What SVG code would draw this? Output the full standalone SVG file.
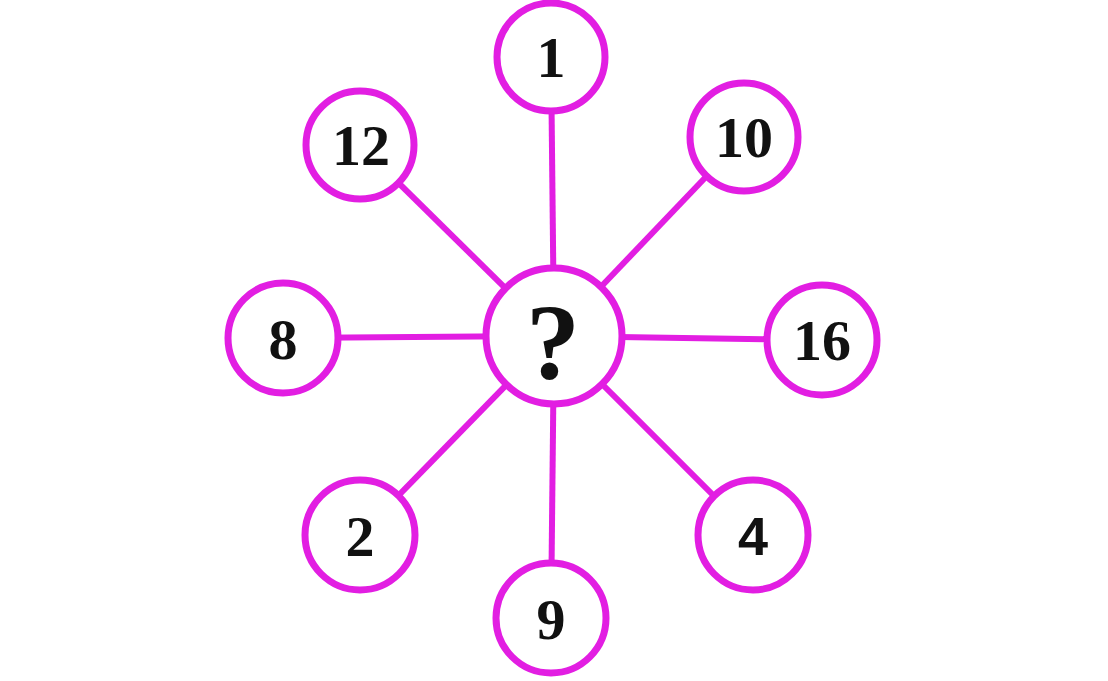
<svg xmlns="http://www.w3.org/2000/svg" width="1108" height="681" viewBox="0 0 1108 681">
<style>
.c{fill:#fff;stroke:#e21ee2;stroke-width:7}
.l{stroke:#e21ee2;stroke-width:6;fill:none}
.t{font-family:"Liberation Serif","Times New Roman",serif;font-weight:bold;font-size:58px;fill:#111;text-anchor:middle}
.s{font-family:"Liberation Sans",Arial,sans-serif;font-weight:bold;font-size:54px;fill:#111;text-anchor:middle}
</style>
<rect width="1108" height="681" fill="#fff"/>
<g id="connectors">
<line class="l" x1="554" y1="336" x2="551" y2="57"/>
<line class="l" x1="554" y1="336" x2="360" y2="145"/>
<line class="l" x1="554" y1="336" x2="744" y2="137"/>
<line class="l" x1="554" y1="336" x2="283" y2="338"/>
<line class="l" x1="554" y1="336" x2="822" y2="340"/>
<line class="l" x1="554" y1="336" x2="360" y2="535"/>
<line class="l" x1="554" y1="336" x2="551" y2="618"/>
<line class="l" x1="554" y1="336" x2="753" y2="535"/>
</g>
<g id="center"><circle class="c" cx="554" cy="336" r="68"/><text class="t" x="553" y="378" style="font-size:108px">?</text></g>
<g id="n1"><circle class="c" cx="551" cy="57" r="54"/><text class="t" x="551" y="77">1</text></g>
<g id="n12"><circle class="c" cx="360" cy="145" r="54"/><text class="t" x="361" y="165">12</text></g>
<g id="n10"><circle class="c" cx="744" cy="137" r="54"/><text class="t" x="744" y="157">10</text></g>
<g id="n8"><circle class="c" cx="283" cy="338" r="55"/><text class="t" x="283" y="359">8</text></g>
<g id="n16"><circle class="c" cx="822" cy="340" r="55"/><text class="t" x="822" y="360">16</text></g>
<g id="n2"><circle class="c" cx="360" cy="535" r="55"/><text class="t" x="360" y="556">2</text></g>
<g id="n9"><circle class="c" cx="551" cy="618" r="55"/><text class="t" x="551" y="639">9</text></g>
<g id="n4"><circle class="c" cx="753" cy="535" r="55"/><text class="s" x="753" y="555">4</text></g>
</svg>
